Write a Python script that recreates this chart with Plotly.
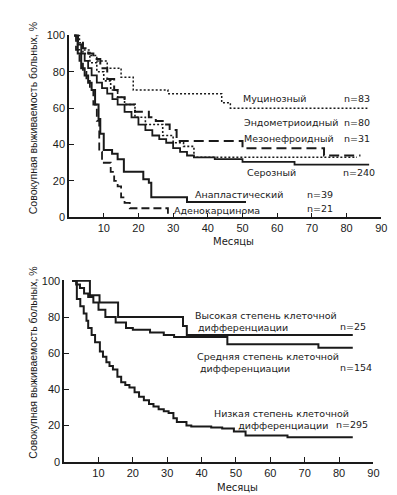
import plotly.graph_objects as go

# ---------------- Top chart data (months, survival %) ----------------
muc_m = [1.5, 3, 4, 6, 8, 11, 15, 18.5, 28.5, 44, 46.5, 86]
muc_s = [100, 96, 92, 89, 86, 82, 77, 70, 68, 63, 60, 60]

endo_m = [1.5, 2.5, 4, 6, 8, 10, 12, 14, 16, 19, 22, 27, 30, 33, 36, 83]
endo_s = [100, 95, 90, 85, 80, 75, 70, 66, 62, 55, 51, 45, 41, 39, 33, 33]

meso_m = [1.5, 2.5, 4, 5.5, 7, 9, 11, 13, 14, 16, 19, 23, 25, 27, 29, 31, 50, 73.5, 84]
meso_s = [100, 97, 93, 90, 87, 82, 76, 70, 66, 62, 58, 55, 53, 51, 48, 42, 38, 34, 34]

ser_m = [1.5, 2.5, 3.5, 4.5, 5.5, 6.5, 8, 9.5, 11, 12.5, 14, 16, 18, 20, 22, 24, 26, 28,
         30, 32, 34, 36, 42, 50, 65, 86.5]
ser_s = [100, 95, 90, 86, 82, 78, 74, 71, 68, 65, 62, 58, 55, 51, 48, 45, 43, 41,
         38, 36, 34, 33, 32, 30.5, 29, 29]

ana_m = [1.5, 2.5, 3.5, 4.5, 5.5, 6.5, 7.5, 8.5, 9, 10, 12.4, 14, 15.8, 21.4, 23, 23.7, 34, 51]
ana_s = [100, 90, 82, 78, 74, 70, 62, 54, 46, 37, 35, 32, 25, 21, 19, 11, 8.5, 8.5]

ade_m = [1.5, 2, 3, 4, 5, 6, 7, 8, 8.7, 9.5, 12, 13, 14, 15, 16, 17.5, 28.5]
ade_s = [100, 92, 86, 80, 75, 70, 62, 53, 36, 30, 25, 20, 17, 11, 8, 5, 0]

top_names = ["Муцинозный", "Эндометриоидный", "Мезонефроидный", "Серозный",
             "Анапластический", "Аденокарцинома"]
top_n = ["n=83", "n=80", "n=31", "n=240", "n=39", "n=21"]

# ---------------- Bottom chart data ----------------
hi_m = [2.3, 7.5, 10.3, 15.7, 34.6, 35.7, 84]
hi_s = [100, 92, 88, 80, 75, 70, 70]

mid_m = [2.3, 3.5, 4.6, 5.8, 7, 8.5, 10, 12, 15, 18, 20, 25, 29, 32, 47.5, 74, 84]
mid_s = [100, 98, 96, 93, 91, 88, 84, 80, 77, 74, 73, 71.5, 70, 69, 65, 63, 63]

low_m = [2.3, 3.7, 4.7, 5.7, 6.5, 7, 8, 9, 10.4, 11.3, 12.3, 13.2, 14.2, 15.5, 16.6, 17.8,
         19, 20.5, 21.8, 23.2, 24.7, 26, 27.5, 29, 30.4, 31.8, 32.8, 35.6, 37, 42.8, 46,
         49.4, 52.8, 65, 84]
low_s = [100, 90, 86, 82, 78, 74, 70, 66, 61, 58, 55, 53, 51, 47, 44, 42.5,
         41, 38.5, 36, 34, 32, 30.5, 29, 28, 27, 24, 22, 20, 19.5, 19, 18.4,
         16.8, 14.6, 13.5, 13.5]

bot_names = [["Высокая степень клеточной", "дифференциации"],
             ["Средняя степень клеточной", "дифференциации"],
             ["Низкая степень клеточной", "дифференциации"]]
bot_n = ["n=25", "n=154", "n=295"]

x_ticks = [10, 20, 30, 40, 50, 60, 70, 80, 90]
y_ticks = [0, 20, 40, 60, 80, 100]
y_title = "Совокупная выживаемость больных, %"
x_title = "Месяцы"

INK = "#1a1a1a"
FONT = "Liberation Sans"
LFONT = "DejaVu Sans"

fig = go.Figure()

def step(x, y, xa, ya, dash="solid", width=2.0):
    fig.add_trace(go.Scatter(x=x, y=y, mode="lines", line_shape="hv",
                             line=dict(color=INK, width=width, dash=dash),
                             xaxis=xa, yaxis=ya, showlegend=False, hoverinfo="skip"))

# top
step(muc_m, muc_s, "x", "y", dash="2px,2px", width=1.5)
step(endo_m, endo_s, "x", "y", dash="2px,2px", width=1.6)
step(meso_m, meso_s, "x", "y", dash="10px,5px", width=2)
step(ser_m, ser_s, "x", "y", width=1.8)
step(ana_m, ana_s, "x", "y", width=2)
step(ade_m, ade_s, "x", "y", dash="8px,4px", width=1.8)

# bottom
step(hi_m, hi_s, "x2", "y2", width=2)
step(mid_m, mid_s, "x2", "y2", width=2)
step(low_m, low_s, "x2", "y2", width=2)

W, H = 397, 495
axis_common = dict(showgrid=False, zeroline=False, showline=True, linecolor=INK, linewidth=1.5,
                   ticks="inside", ticklen=5, tickwidth=1.2, tickcolor=INK,
                   tickfont=dict(family=FONT, size=11, color=INK))

fig.update_layout(
    width=W, height=H, margin=dict(l=0, r=0, t=0, b=0),
    paper_bgcolor="white", plot_bgcolor="white",
    xaxis=dict(domain=[62 / W, 379 / W], range=[0, 90], tickvals=x_ticks, anchor="y", **axis_common),
    yaxis=dict(domain=[1 - 209 / H, 1 - 22 / H], range=[0, 100.5], tickvals=y_ticks, anchor="x", **axis_common),
    xaxis2=dict(domain=[57 / W, 371 / W], range=[0, 90], tickvals=x_ticks, anchor="y2", **axis_common),
    yaxis2=dict(domain=[1 - 459 / H, 1 - 273 / H], range=[0, 100.5], tickvals=y_ticks, anchor="x2", **axis_common),
)

ann = []
def txt(x, y, t, xref="x", yref="y", size=9.5, angle=0, xanchor="left", family=LFONT):
    ann.append(dict(x=x, y=y, xref=xref, yref=yref, text=t, showarrow=False,
                    xanchor=xanchor, yanchor="middle", textangle=angle, align="left",
                    font=dict(family=family, size=size, color=INK)))

# top labels
top_pos = [(49.6, 65.6), (49.9, 52), (49.9, 43.5), (50.7, 24.7), (35.8, 12.6), (29.8, 4.0)]
n_pos = [(78.6, 65.6), (78.6, 52), (78.6, 43.5), (78.3, 24.7), (68, 12.6), (68, 4.8)]
for (px, py), name in zip(top_pos, top_names):
    txt(px, py, name)
for (px, py), n in zip(n_pos, top_n):
    txt(px, py, n)

# bottom labels (two-line)
NB = "\u00a0"
bl_pos = [(37.4, 77.3), (38.0, 54.6), (43.1, 23.2)]
indent = [NB, NB, NB * 8]
bn_pos = [(79.7, 74.6), (79.7, 51.9), (78.6, 20.5)]
for (px, py), (l1, l2), ind in zip(bl_pos, bot_names, indent):
    txt(px, py, l1 + "<br>" + ind + l2, "x2", "y2")
for (px, py), n in zip(bn_pos, bot_n):
    txt(px, py, n, "x2", "y2")

# axis titles
txt(25 / W, 1 - 108 / H, y_title, "paper", "paper", size=10.5, angle=-90, xanchor="center", family=FONT)
txt(25 / W, 1 - 358 / H, y_title, "paper", "paper", size=10.5, angle=-90, xanchor="center", family=FONT)
txt(229 / W, 1 - 234 / H, x_title, "paper", "paper", size=10, xanchor="center")
txt(233 / W, 1 - 485 / H, x_title, "paper", "paper", size=10, xanchor="center")

fig.update_layout(annotations=ann)
fig.write_html("out.html")
